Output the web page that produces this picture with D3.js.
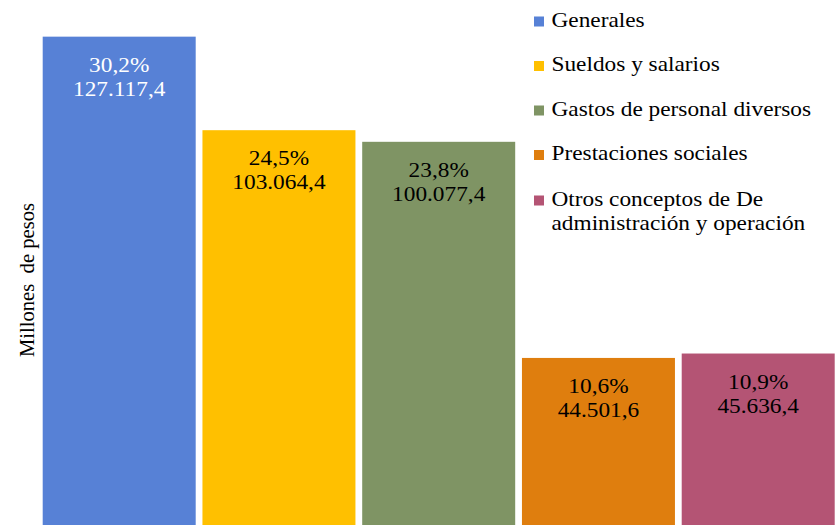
<!DOCTYPE html>
<html><head><meta charset="utf-8">
<script src="https://cdn.jsdelivr.net/npm/d3@7"></script>
</head><body style="margin:0">
<script>
const categories = ["Generales","Sueldos y salarios","Gastos de personal diversos","Prestaciones sociales","Otros conceptos de De administración y operación"];
const values = [127117.4, 103064.4, 100077.4, 44501.6, 45636.4];
const percents = ["30,2%","24,5%","23,8%","10,6%","10,9%"];
const valueLabels = ["127.117,4","103.064,4","100.077,4","44.501,6","45.636,4"];
const legendLines = [["Generales"],["Sueldos y salarios"],["Gastos de personal diversos"],["Prestaciones sociales"],["Otros conceptos de De","administración y operación"]];
const colors = ["#5781D6","#FFC000","#7F9464","#DF7E0E","#B45474"];
const labelColors = ["#ffffff","#000000","#000000","#000000","#000000"];

const W = 835, H = 525;
const FONT = '"Liberation Serif"';
const SX = 1.06;
const svg = d3.select("body").append("svg").attr("width", W).attr("height", H).style("display","block");

const x = d3.scaleBand().domain(categories).range([42.7, 834.7]).paddingInner(0.0423).paddingOuter(0);
const y = d3.scaleLinear().domain([0, 135000]).range([531, 6]);

svg.selectAll("rect.bar").data(categories).join("rect")
  .attr("class","bar")
  .attr("x", d => x(d))
  .attr("width", x.bandwidth())
  .attr("y", (d,i) => y(values[i]))
  .attr("height", (d,i) => y(0) - y(values[i]))
  .attr("fill", (d,i) => colors[i]);

categories.forEach((d,i) => {
  const cx = x(d) + x.bandwidth()/2;
  const g = svg.append("g").attr("transform", `translate(${cx},${y(values[i])}) scale(${SX},1)`);
  g.append("text").attr("x", 0).attr("y", 35)
    .style("font-family", FONT).style("font-size", "22px").style("text-anchor","middle")
    .style("fill", labelColors[i]).text(percents[i]);
  g.append("text").attr("x", 0).attr("y", 59)
    .style("font-family", FONT).style("font-size", "22px").style("text-anchor","middle")
    .style("fill", labelColors[i]).text(valueLabels[i]);
});

svg.append("text")
  .attr("transform","translate(34,280) rotate(-90)")
  .style("font-family", FONT).style("font-size", "21px").style("text-anchor","middle")
  .attr("textLength", 154).attr("lengthAdjust","spacingAndGlyphs")
  .style("white-space","pre")
  .text("Millones  de pesos");

// legend
const legY = [26.5, 71, 115.5, 160, 205.5];
categories.forEach((d,i) => {
  svg.append("rect").attr("x", 534).attr("width", 10).attr("height", 10)
    .attr("y", legY[i] - 10).attr("fill", colors[i]);
  const g = svg.append("g").attr("transform", `translate(551.5,${legY[i]}) scale(${SX},1)`);
  legendLines[i].forEach((ln,j) => {
    g.append("text").attr("x", 0).attr("y", j*24.5)
      .style("font-family", FONT).style("font-size", "22px")
      .text(ln);
  });
});
</script>
</body></html>
